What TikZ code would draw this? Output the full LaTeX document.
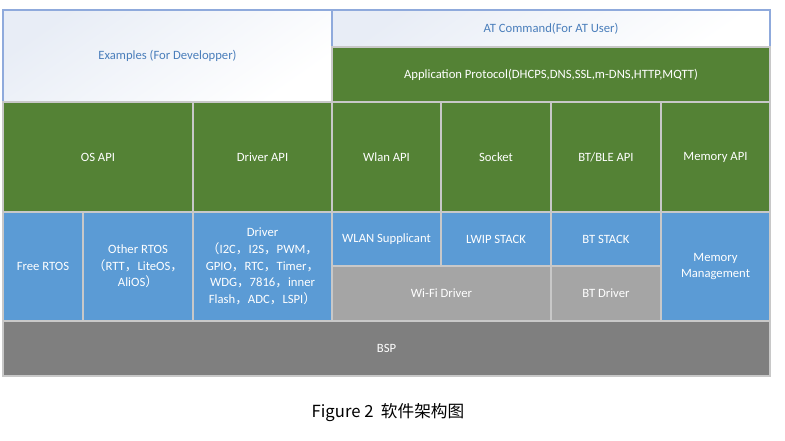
\documentclass[tikz,border=0pt]{standalone}
\usepackage{fontspec}
\setmainfont{Carlito}
\newfontfamily\cjk{Noto Sans CJK SC}
\usetikzlibrary{positioning}
\definecolor{apigreen}{RGB}{84,130,53}
\definecolor{drvblue}{RGB}{91,155,213}
\definecolor{lowgray}{RGB}{165,165,165}
\definecolor{bspgray}{RGB}{127,127,127}
\definecolor{edgegray}{RGB}{200,200,200}
\definecolor{userblue}{RGB}{74,126,187}
\definecolor{userframe}{RGB}{143,170,220}
\definecolor{usershade}{RGB}{232,237,246}

% full-width punctuation from the CJK font
\newcommand{\fcomma}{{\cjk ，}}
\newcommand{\flparen}{{\cjk （}}
\newcommand{\frparen}{{\cjk ）}}

% one block of the stack: name, style, x1, y1, x2, y2, text
\newcommand{\layer}[7]{%
  \node (#1) [#2, anchor=north west,
    minimum width={(#5-#3)*0.75pt}, minimum height={(#6-#4)*0.75pt}]
    at (#3,#4) {#7};}

\begin{document}
\begin{tikzpicture}[
    x=0.75pt, y=-0.75pt,
    block/.style={rectangle, draw=edgegray, line width=0.8pt,
                  inner sep=1pt, outer sep=0pt, align=center,
                  text=white, font=\fontsize{9.5}{12.5}\selectfont},
    api/.style={block, fill=apigreen},
    drv/.style={block, fill=drvblue},
    hw/.style={block, fill=lowgray},
    bsp/.style={block, fill=bspgray},
    user/.style={block, draw=userframe, text=userblue,
                 top color=usershade, bottom color=white,
                 shading angle=35}
]
\useasboundingbox (0,0) rectangle (785,440);

% user layer
\layer{examples}{user}{3}{10}{332}{102}{Examples (For Developper)}
\layer{atcmd}{user}{332}{10}{770}{47}{AT Command(For AT User)}
\layer{proto}{api}{332}{47}{770}{102}{Application Protocol(DHCPS,DNS,SSL,m-DNS,HTTP,MQTT)}

% API layer
\layer{osapi}{api}{3}{102}{193}{212}{OS API}
\layer{drvapi}{api}{193}{102}{332}{212}{Driver API}
\layer{wlanapi}{api}{332}{102}{441}{212}{Wlan API}
\layer{socket}{api}{441}{102}{551}{212}{Socket}
\layer{btapi}{api}{551}{102}{661}{212}{BT/BLE API}
\layer{memapi}{api}{661}{102}{770}{212}{Memory API}

% component layer
\layer{freertos}{drv}{3}{212}{83}{321}{Free RTOS}
\layer{otherrtos}{drv}{83}{212}{193}{321}{Other RTOS\\\flparen RTT\fcomma LiteOS\fcomma\\AliOS\frparen}
\layer{driver}{drv}{193}{212}{332}{321}{Driver\\\flparen I2C\fcomma I2S\fcomma PWM\fcomma\\GPIO\fcomma RTC\fcomma Timer\fcomma\\WDG\fcomma 7816\fcomma inner\\Flash\fcomma ADC\fcomma LSPI\frparen}
\layer{supplicant}{drv}{332}{212}{441}{266}{WLAN Supplicant}
\layer{lwip}{drv}{441}{212}{551}{266}{LWIP STACK}
\layer{btstack}{drv}{551}{212}{661}{266}{BT STACK}
\layer{wifidrv}{hw}{332}{266}{551}{321}{Wi-Fi Driver}
\layer{btdrv}{hw}{551}{266}{661}{321}{BT Driver}
\layer{memmgmt}{drv}{661}{212}{770}{321}{Memory\\Management}

% board support
\layer{bspl}{bsp}{3}{321}{770}{376}{BSP}

% caption
\node (caption) at (388,413) {\cjk\fontsize{12.5}{15}\selectfont Figure 2\ \ 软件架构图};
\end{tikzpicture}
\end{document}
